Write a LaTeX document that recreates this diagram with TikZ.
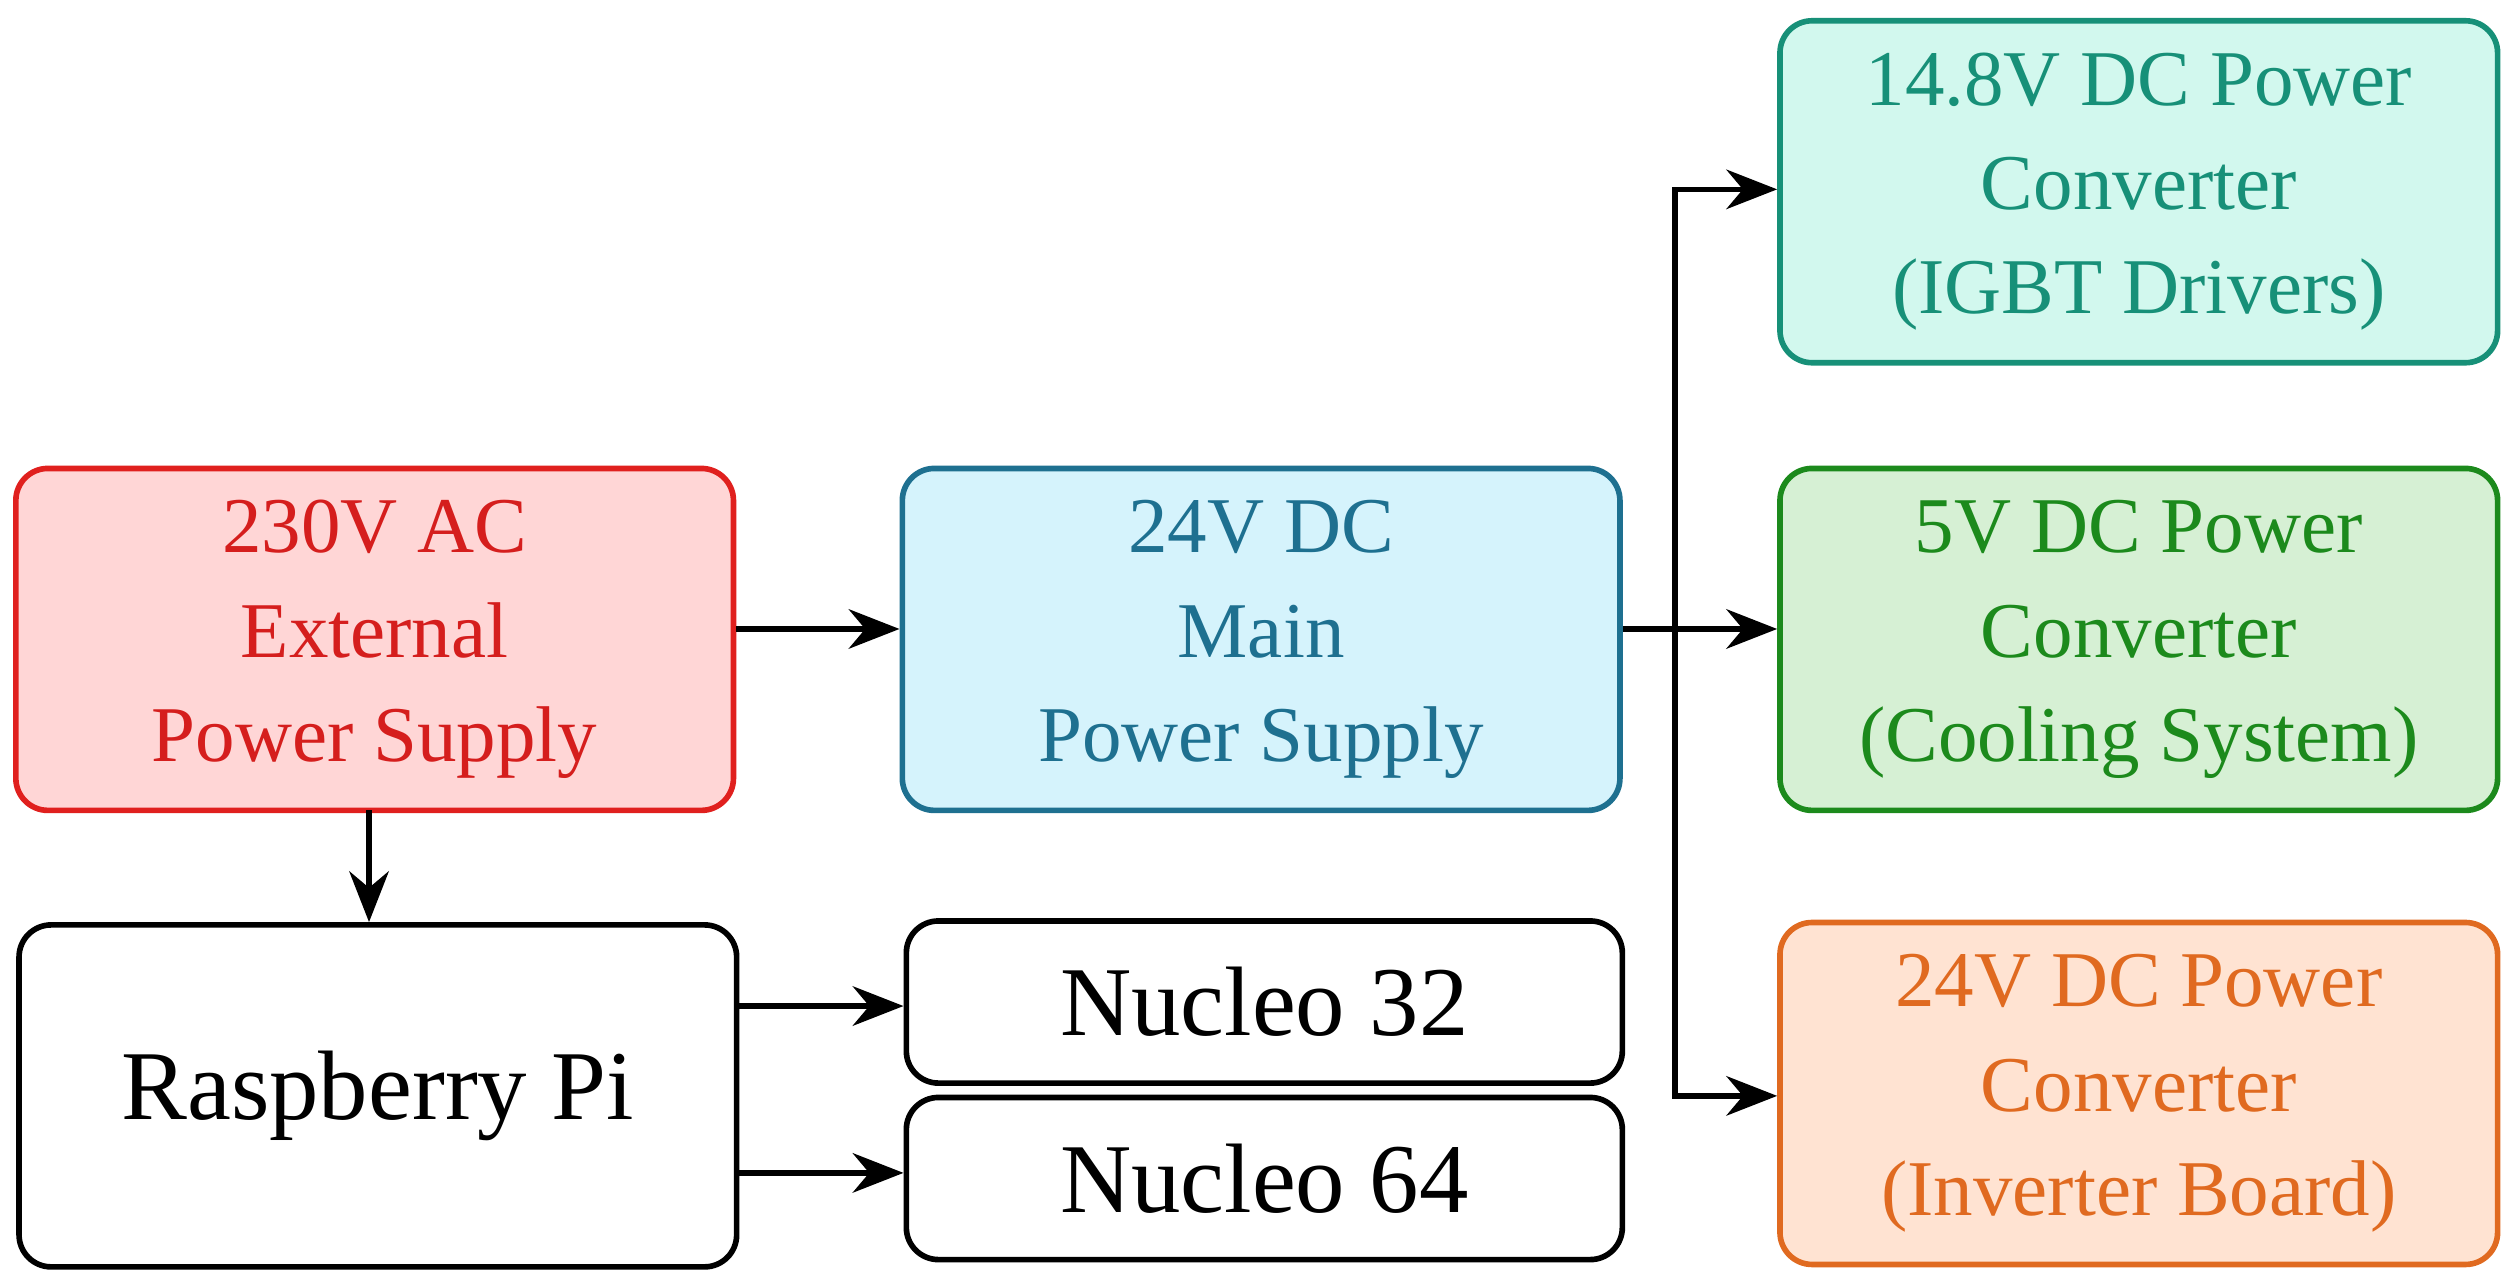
\documentclass[tikz,border=0pt]{standalone}
\usepackage{fontspec}
\setmainfont{Liberation Serif}
\usetikzlibrary{arrows.meta}
\definecolor{rF}{HTML}{FFD6D6}\definecolor{rD}{HTML}{E0201E}
\definecolor{bF}{HTML}{D5F3FC}\definecolor{bD}{HTML}{1E7090}
\definecolor{tF}{HTML}{D2F8EE}\definecolor{tD}{HTML}{179078}
\definecolor{gF}{HTML}{D6F0D4}\definecolor{gD}{HTML}{1C8A1C}
\definecolor{oF}{HTML}{FFE3D2}\definecolor{oD}{HTML}{E06A20}
\begin{document}
\begin{tikzpicture}[x=0.01cm,y=-0.01cm,
 box/.style={draw,line width=1pt,rounded corners=0.2cm,align=center,inner sep=0pt,
   font=\fontsize{14}{18.5}\selectfont},
 big/.style={box,minimum width=4.47cm,minimum height=2.13cm},
 small/.style={box,minimum width=4.46cm,minimum height=1.01cm,font=\fontsize{17.5}{20}\selectfont},
 arr/.style={line width=1pt,-{Stealth[length=9pt,width=7pt]}}]
\useasboundingbox (0,0) rectangle (1560,799);
\node[big,fill=rF,draw=rD,text=rD!95!black] (ac) at (233.5,398.5) {230V AC\\External\\Power Supply};
\node[big,fill=bF,draw=bD,text=bD] (dc) at (786,398.5) {24V DC\\Main\\Power Supply};
\node[big,fill=tF,draw=tD,text=tD] (t) at (1333,119.5) {14.8V DC Power\\Converter\\(IGBT Drivers)};
\node[big,fill=gF,draw=gD,text=gD] (g) at (1333,398.5) {5V DC Power\\Converter\\(Cooling System)};
\node[big,fill=oF,draw=oD,text=oD] (o) at (1333,681.5) {24V DC Power\\Converter\\(Inverter Board)};
\node[big,draw=black,font=\fontsize{17.5}{20}\selectfont] (rpi) at (235.5,683) {Raspberry Pi};
\node[small] (n32) at (788,624.5) {Nucleo 32};
\node[small] (n64) at (788,734.5) {Nucleo 64};
\coordinate (j) at (1044,392);
\draw[arr] (ac.east|-0,392) -- (dc.west|-0,392);
\draw[arr] (dc.east|-0,392) -- (g.west|-0,392);
\draw[arr] (j) -- (1044,118) -- (t.west|-0,118);
\draw[arr] (j) -- (1044,683) -- (o.west|-0,683);
\draw[arr] (230,505) -- (rpi.north-|230,0);
\draw[arr] (rpi.east|-0,627) -- (n32.west|-0,627);
\draw[arr] (rpi.east|-0,731) -- (n64.west|-0,731);
\end{tikzpicture}
\end{document}
